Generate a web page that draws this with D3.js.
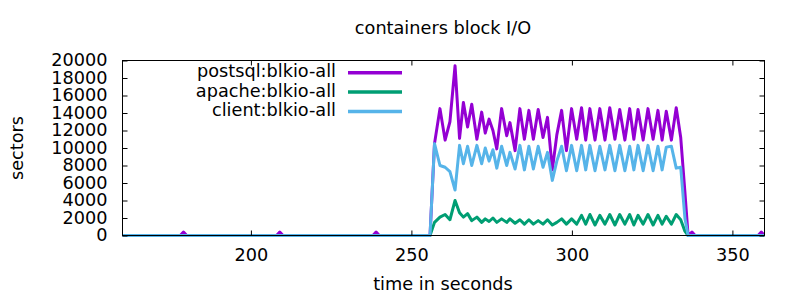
<!DOCTYPE html>
<html><head><meta charset="utf-8">
<script src="https://cdn.jsdelivr.net/npm/d3@7"></script>
<style>body{margin:0;background:#fff} text{font-family:"DejaVu Sans",sans-serif;fill:#000}</style>
</head><body><svg id="c" width="800" height="300"></svg>
<script>
const title = "containers block I/O";
const xLabel = "time in seconds";
const yLabel = "sectors";
const seriesNames = ["postsql:blkio-all", "apache:blkio-all", "client:blkio-all"];
const seriesColors = ["#9400d3", "#009e73", "#56b4e9"];
const xTicks = [200, 250, 300, 350];
const yTicks = [0, 2000, 4000, 6000, 8000, 10000, 12000, 14000, 16000, 18000, 20000];

const time = [160, 178, 179, 180, 208, 209, 210, 238, 239, 240, 255.8,
  257.2, 258.9, 260.5, 262.0, 263.6, 265.0, 266.2, 267.5, 268.8, 270.4, 271.9, 273.0, 274.2, 275.4, 276.6,
  278.1, 279.7, 280.7, 282.3, 283.8, 285.2, 286.6, 288.0, 289.5, 291.0, 292.4, 293.9, 295.3, 296.8, 298.3,
  299.9, 301.5, 303.0, 304.3, 305.6, 307.2, 308.7, 310.3, 311.8, 313.4, 314.9, 316.5, 318.0, 319.3, 320.6,
  322.2, 323.7, 325.3, 326.8, 328.1, 329.4, 331.0, 332.5, 333.9, 335.2, 336.2, 337.4, 338.4, 358, 359, 360];
const postsql = [0, 0, 400, 0, 0, 400, 0, 0, 400, 0, 0,
  10500, 14500, 10900, 13000, 19400, 11100, 15200, 12400, 15000, 11000, 14100, 11700, 13300, 12000, 9900,
  14500, 11400, 12900, 9700, 14500, 11000, 14300, 11000, 14400, 11200, 13500, 7500, 11500, 14300, 9700,
  14500, 11000, 14600, 10900, 14500, 10900, 14500, 10900, 14600, 11000, 14400, 10900, 14500, 11000, 14400,
  10900, 14500, 11000, 14300, 10900, 14200, 10900, 14600, 11200, 5000, 0, 400, 0, 0, 400, 0];
const apache = [0, 0, 0, 0, 0, 0, 0, 0, 0, 0, 0,
  1500, 2100, 2400, 1800, 4000, 2600, 2100, 2500, 1700, 2100, 1500, 1900, 1600, 2000, 1500,
  1900, 1500, 1900, 1400, 1800, 1300, 1800, 1300, 1700, 1300, 1800, 1200, 1500, 1900, 1300,
  1900, 1300, 2300, 1300, 2400, 1200, 2300, 1300, 2400, 1200, 2400, 1300, 2400, 1200, 2300,
  1300, 2400, 1200, 2300, 1300, 2200, 1300, 2400, 1800, 500, 0, 0, 0, 0, 0, 0];
const client = [0, 0, 0, 0, 0, 0, 0, 0, 0, 0, 0,
  10500, 8000, 7800, 7300, 5200, 10300, 8200, 10200, 8000, 10300, 8200, 10000, 8500, 9800, 7700,
  10200, 8000, 9500, 7600, 10300, 7500, 10200, 7600, 10200, 7800, 9500, 6300, 8500, 10200, 7400,
  10300, 7400, 10300, 7500, 10300, 7400, 10200, 7500, 10300, 7400, 10300, 7400, 10200, 7500, 10300,
  7400, 10300, 7400, 10200, 7500, 10100, 10200, 7700, 7800, 2000, 0, 0, 0, 0, 0, 0];

const svg = d3.select("#c");
const L = 122.5, R = 764.5, T = 60.5, B = 235.5;
const x = d3.scaleLinear().domain([160, 360]).range([L, R]);
const y = d3.scaleLinear().domain([0, 20000]).range([B, T]);

svg.append("defs").append("clipPath").attr("id", "clip")
  .append("rect").attr("x", L).attr("y", T - 10).attr("width", R - L).attr("height", B - T + 12);

const series = [postsql, apache, client];
const line = d3.line().x((d, i) => x(time[i])).y(d => y(d));
const plot = svg.append("g").attr("clip-path", "url(#clip)");
series.forEach((s, k) => {
  plot.append("path").datum(s).attr("d", line)
    .attr("fill", "none").attr("stroke", seriesColors[k])
    .attr("stroke-width", 3).attr("stroke-linejoin", "round").attr("stroke-linecap", "butt");
});

const fs = 17.7;
const axB = svg.append("g").attr("transform", `translate(0,${B})`)
  .call(d3.axisBottom(x).tickValues(xTicks).tickSize(-5).tickPadding(12).tickFormat(d3.format("d")));
const axT = svg.append("g").attr("transform", `translate(0,${T})`)
  .call(d3.axisTop(x).tickValues(xTicks).tickSize(-5).tickFormat(""));
const axL = svg.append("g").attr("transform", `translate(${L},0)`)
  .call(d3.axisLeft(y).tickValues(yTicks).tickSize(-5).tickPadding(15).tickFormat(d3.format("d")));
const axR = svg.append("g").attr("transform", `translate(${R},0)`)
  .call(d3.axisRight(y).tickValues(yTicks).tickSize(-5).tickFormat(""));
[axB, axT, axL, axR].forEach(a => {
  a.select(".domain").remove();
  a.selectAll("line").attr("stroke", "#000").attr("stroke-width", 1);
  a.selectAll("text").style("font-family", "DejaVu Sans").style("font-size", fs + "px").attr("fill", "#000");
});
axB.selectAll("text").attr("dy", null).attr("y", 25);
axL.selectAll("text").attr("dy", "0.3em");
svg.append("rect").attr("x", L).attr("y", T).attr("width", R - L).attr("height", B - T)
  .attr("fill", "none").attr("stroke", "#000").attr("stroke-width", 1);

svg.append("text").attr("x", 443).attr("y", 34).attr("text-anchor", "middle")
  .style("font-size", fs + "px").text(title);
svg.append("text").attr("x", 443).attr("y", 290).attr("text-anchor", "middle")
  .style("font-size", fs + "px").text(xLabel);
svg.append("text").attr("transform", "translate(23,148) rotate(-90)").attr("text-anchor", "middle")
  .style("font-size", fs + "px").text(yLabel);

const leg = svg.append("g");
seriesNames.forEach((n, k) => {
  const yy = 77.3 + k * 19.4;
  leg.append("text").attr("x", 336).attr("y", yy).attr("text-anchor", "end")
    .style("font-size", fs + "px").text(n);
  leg.append("line").attr("x1", 348).attr("x2", 402).attr("y1", yy - 4.6).attr("y2", yy - 4.6)
    .attr("stroke", seriesColors[k]).attr("stroke-width", 3.5);
});
</script></body></html>
